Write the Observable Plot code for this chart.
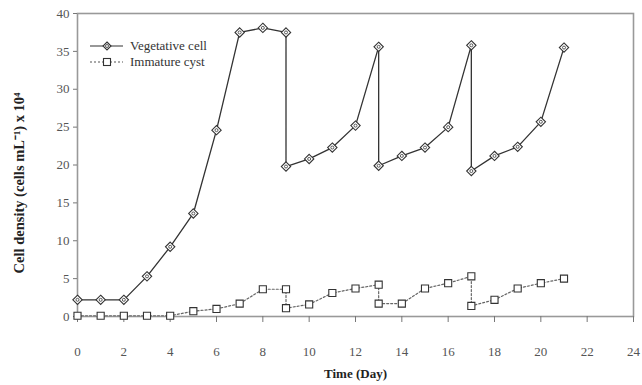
<!DOCTYPE html>
<html>
<head>
<meta charset="utf-8">
<script src="https://cdn.jsdelivr.net/npm/d3@7"></script>
<script src="https://cdn.jsdelivr.net/npm/@observablehq/plot@0.6"></script>
<style>
  html, body { margin: 0; padding: 0; background: #fff; }
  #wrap { position: relative; width: 642px; height: 385px; }
  #legend { position: absolute; left: 90px; top: 38px; font-family: "Liberation Serif", "Times New Roman", serif; font-size: 13px; color: #333; }
  #legend div { display: flex; align-items: center; height: 16px; }
  #legend svg { margin-right: 7px; }
</style>
</head>
<body>
<div id="wrap">
  <div id="chart"></div>
  <div id="legend">
    <div><svg width="33" height="10"><line x1="0" y1="5" x2="33" y2="5" stroke="#333" stroke-width="1.2"/><path d="M17,1 L21,5 L17,9 L13,5 Z" fill="#fff" stroke="#333" stroke-width="1.1"/><circle cx="17" cy="5" r="1.5" fill="none" stroke="#333" stroke-width="0.8"/></svg>Vegetative cell</div>
    <div><svg width="33" height="10"><line x1="0" y1="5" x2="33" y2="5" stroke="#555" stroke-width="1.2" stroke-dasharray="2,2"/><rect x="13.5" y="1.5" width="7" height="7" fill="#fff" stroke="#333" stroke-width="1.1"/></svg>Immature cyst</div>
  </div>
</div>
<script>
// Vegetative cell
const vegDay   = [0, 1, 2, 3, 4, 5, 6, 7, 8, 9, 9, 10, 11, 12, 13, 13, 14, 15, 16, 17, 17, 18, 19, 20, 21];
const vegValue = [2.2, 2.2, 2.2, 5.3, 9.2, 13.6, 24.6, 37.5, 38.1, 37.5, 19.8, 20.8, 22.3, 25.2, 35.6, 19.9, 21.2, 22.3, 25.0, 35.8, 19.2, 21.2, 22.4, 25.7, 35.5];
// Immature cyst
const cystDay   = [0, 1, 2, 3, 4, 5, 6, 7, 8, 9, 9, 10, 11, 12, 13, 13, 14, 15, 16, 17, 17, 18, 19, 20, 21];
const cystValue = [0.1, 0.1, 0.1, 0.1, 0.1, 0.7, 1.0, 1.7, 3.6, 3.6, 1.1, 1.6, 3.1, 3.7, 4.2, 1.7, 1.7, 3.7, 4.4, 5.3, 1.4, 2.2, 3.7, 4.4, 5.0];

const xTicks = [0, 2, 4, 6, 8, 10, 12, 14, 16, 18, 20, 22, 24];
const yTicks = [0, 5, 10, 15, 20, 25, 30, 35, 40];

const veg = vegDay.map((d, i) => ({day: d, value: vegValue[i]}));
const cyst = cystDay.map((d, i) => ({day: d, value: cystValue[i]}));

const chart = Plot.plot({
  width: 642,
  height: 385,
  marginLeft: 77,
  marginRight: 9,
  marginTop: 13,
  marginBottom: 69,
  style: {fontFamily: "'Liberation Serif', 'Times New Roman', serif", fontSize: "13px", color: "#555", background: "#fff"},
  x: {domain: [0, 24], ticks: xTicks},
  y: {domain: [0, 40], ticks: yTicks},
  marks: [
    Plot.frame({stroke: "#999", strokeWidth: 1.6}),
    Plot.axisX({ticks: xTicks, tickSize: 6, tickPadding: 24, stroke: "#777", label: null}),
    Plot.axisY({ticks: yTicks, tickSize: 4, tickPadding: 4, stroke: "#777", label: null}),
    Plot.line(cyst, {x: "day", y: "value", stroke: "#666", strokeWidth: 1.2, strokeDasharray: "2,2"}),
    Plot.dot(cyst, {x: "day", y: "value", symbol: "square", r: 4, fill: "#fff", stroke: "#333", strokeWidth: 1.1}),
    Plot.line(veg, {x: "day", y: "value", stroke: "#333", strokeWidth: 1.3}),
    Plot.dot(veg, {x: "day", y: "value", symbol: "diamond2", r: 4.2, fill: "#fff", stroke: "#333", strokeWidth: 1.1}),
    Plot.dot(veg, {x: "day", y: "value", symbol: "circle", r: 1.5, fill: "none", stroke: "#333", strokeWidth: 0.8}),
    Plot.text(["Time (Day)"], {frameAnchor: "bottom", dy: 61, fontWeight: "bold", fontSize: 13, fill: "#222"}),
    Plot.text(["Cell density (cells mL\u207B\u00B9) x 10\u2074"], {frameAnchor: "left", textAnchor: "middle", dx: -58, dy: 18, rotate: -90, fontWeight: "bold", fontSize: 14.5, fill: "#222"})
  ]
});
document.getElementById("chart").appendChild(chart);
</script>
</body>
</html>
